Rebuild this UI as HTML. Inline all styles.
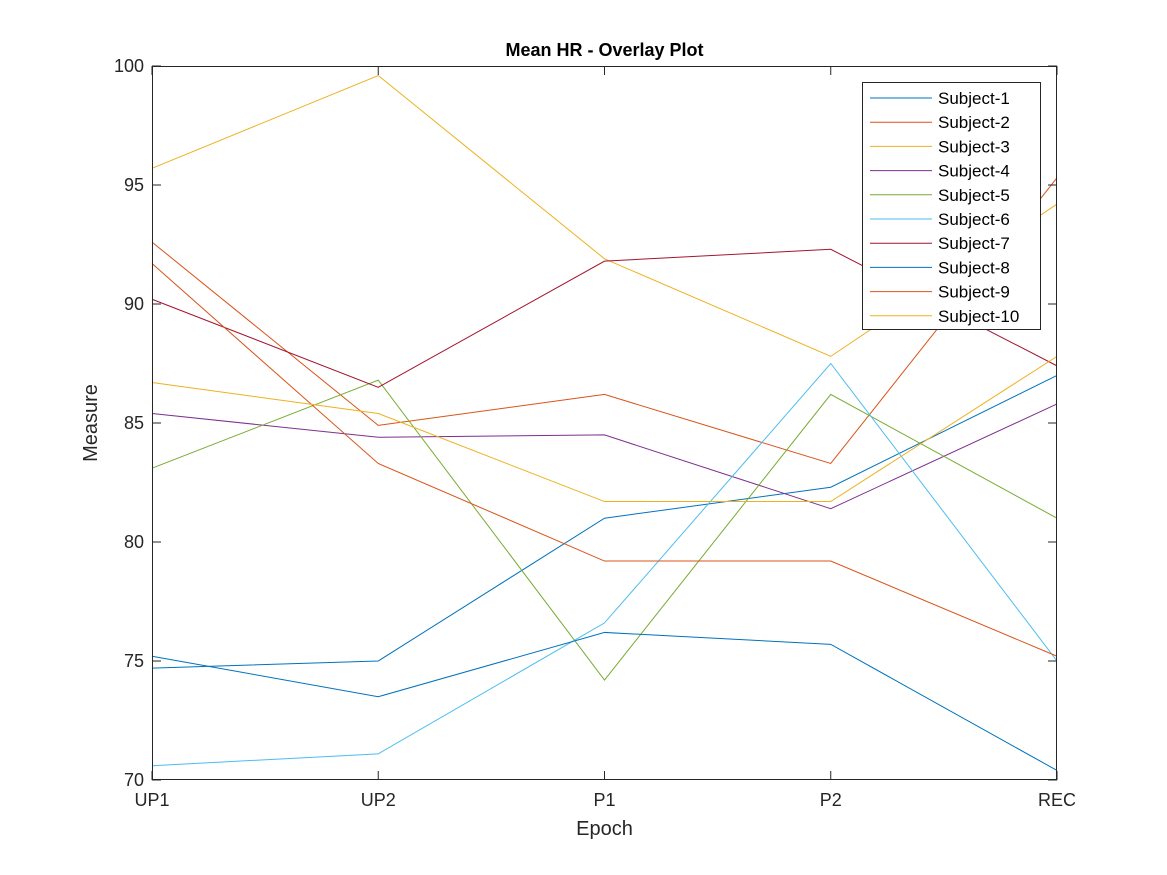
<!DOCTYPE html>
<html><head><meta charset="utf-8"><style>
body{margin:0;background:#fff;}
svg{display:block;font-family:"Liberation Sans",sans-serif;}
</style></head><body>
<svg id="chart" width="1167" height="875"></svg>
<script>
const categories=["UP1","UP2","P1","P2","REC"];
const subjects=["Subject-1","Subject-2","Subject-3","Subject-4","Subject-5","Subject-6","Subject-7","Subject-8","Subject-9","Subject-10"];
const s1=[74.7,75.0,81.0,82.3,87.0];
const s2=[92.6,84.9,86.2,83.3,95.3];
const s3=[95.7,99.6,91.9,87.8,94.2];
const s4=[85.4,84.4,84.5,81.4,85.8];
const s5=[83.1,86.8,74.2,86.2,81.0];
const s6=[70.6,71.1,76.6,87.5,75.0];
const s7=[90.2,86.5,91.8,92.3,87.4];
const s8=[75.2,73.5,76.2,75.7,70.4];
const s9=[91.7,83.3,79.2,79.2,75.2];
const s10=[86.7,85.4,81.7,81.7,87.8];
const series=[s1,s2,s3,s4,s5,s6,s7,s8,s9,s10];
const colors=["#0072BD","#D95319","#EDB120","#7E2F8E","#77AC30","#4DBEEE","#A2142F","#0072BD","#D95319","#EDB120"];
const yTicks=[70,75,80,85,90,95,100];
const L=152,R=1057,T=66,B=780,yMin=70,yMax=100;
const xs=i=>L+i*(R-L)/(categories.length-1);
const ys=v=>B-(v-yMin)/(yMax-yMin)*(B-T);
const svg=document.getElementById('chart');
const NS="http://www.w3.org/2000/svg";
function mk(t,a,p){const e=document.createElementNS(NS,t);for(const k in a)e.setAttribute(k,a[k]);(p||svg).appendChild(e);return e;}
const bg=mk('rect',{x:L,y:T,width:R-L,height:B-T,fill:'#fff'});


series.forEach((s,k)=>{
  const pl=mk('polyline',{points:s.map((v,i)=>xs(i)+','+ys(v)).join(' '),fill:'none',stroke:colors[k],'stroke-width':1});
  
  
});
const box=mk('rect',{x:L+0.5,y:T+0.5,width:R-L-1,height:B-T-1,fill:'none',stroke:'#262626','stroke-width':1});


yTicks.forEach(v=>{
  const y=ys(v);
  mk('line',{x1:L,x2:L+9,y1:y,y2:y,stroke:'#262626'});
  mk('line',{x1:R-9,x2:R,y1:y,y2:y,stroke:'#262626'});
  const t=mk('text',{x:L-8,y:y+6,'text-anchor':'end','font-size':18,fill:'#262626'});
  t.textContent=v;
  
  
});
categories.forEach((c,i)=>{
  const x=xs(i);
  mk('line',{x1:x,x2:x,y1:B,y2:B-9,stroke:'#262626'});
  mk('line',{x1:x,x2:x,y1:T,y2:T+9,stroke:'#262626'});
  const t=mk('text',{x:x,y:B+26,'text-anchor':'middle','font-size':18,fill:'#262626'});
  t.textContent=c;
  
  
});
const title=mk('text',{x:(L+R)/2,y:56,'text-anchor':'middle','font-size':18,'font-weight':'bold',fill:'#000'});
title.textContent='Mean HR - Overlay Plot';


const xl=mk('text',{x:(L+R)/2,y:835,'text-anchor':'middle','font-size':20,fill:'#262626'});
xl.textContent='Epoch';


const yl=mk('text',{x:0,y:0,'text-anchor':'middle','font-size':20,fill:'#262626',transform:'translate(97,423) rotate(-90)'});
yl.textContent='Measure';


const lg=mk('g',{});


mk('rect',{x:862.5,y:82.5,width:178,height:247,fill:'#fff',stroke:'#262626'},lg);
subjects.forEach((n,k)=>{
  const y=98+k*24.2;
  const ln=mk('line',{x1:870,x2:932,y1:y,y2:y,stroke:colors[k]},lg);
  
  
  const t=mk('text',{x:938,y:y+6,'font-size':17,fill:'#000'},lg);
  t.textContent=n;
  
  
});
</script>
</body></html>
